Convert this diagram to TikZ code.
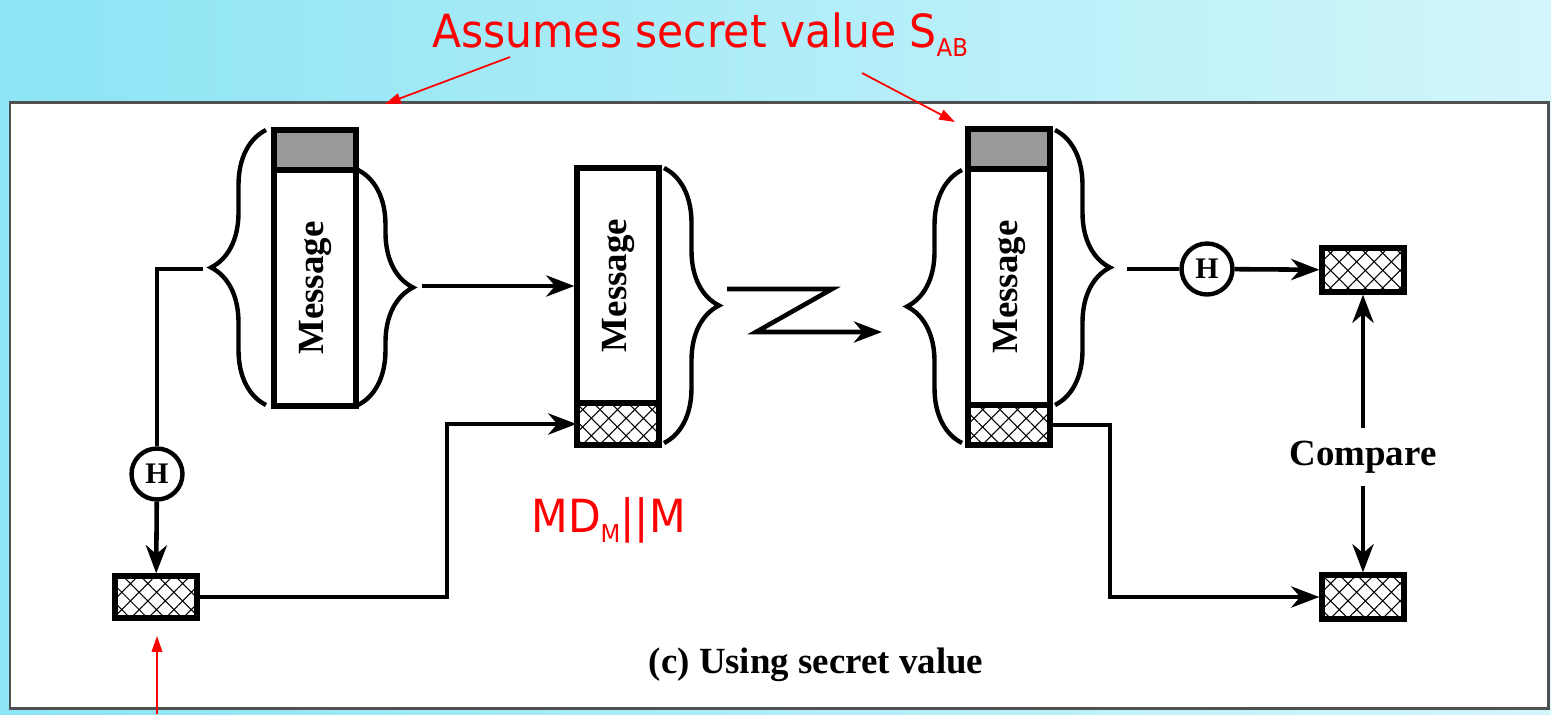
\documentclass[tikz,border=0pt]{standalone}
\usepackage{fontspec}
\setmainfont{Liberation Serif}
\newfontfamily\redfont[FakeStretch=0.93]{DejaVu Sans}
\usetikzlibrary{arrows.meta,decorations.pathreplacing,patterns.meta}

\definecolor{skyL}{RGB}{140,228,244}
\definecolor{skyR}{RGB}{210,246,251}
\definecolor{framegray}{RGB}{80,80,80}
\definecolor{keygray}{RGB}{154,152,154}

\tikzset{
  box/.style={draw,line width=3pt,minimum width=16.4mm,inner sep=0pt},
  keybox/.style={box,fill=keygray,minimum height=8mm},
  msgbox/.style={box,fill=white,minimum height=47.2mm,font=\fontsize{21}{21}\selectfont\bfseries},
  macbox/.style={box,pattern={Hatch[angle=45,distance=7pt,line width=0.6pt]},minimum height=8.4mm},
  hashnode/.style={draw,circle,line width=2.5pt,fill=white,minimum size=10.2mm,inner sep=0pt,font=\fontsize{17}{17}\selectfont\bfseries},
  lbl/.style={font=\fontsize{21}{21}\selectfont\bfseries},
  redlbl/.style={red,inner sep=0pt,font=\redfont\fontsize{26}{26}\selectfont},
  conn/.style={line width=2.6pt},
  arr/.style={conn,-{Stealth[length=16pt,width=12pt,inset=5pt]}},
  brc/.style={decorate,decoration={brace,amplitude=11mm},line width=2.5pt},
  redarr/.style={red,line width=1pt,-{Triangle[length=9pt,width=6pt]}}
}

\begin{document}
\begin{tikzpicture}[x=0.02cm,y=-0.02cm]
\useasboundingbox (0,0) rectangle (1551,714);
\shade[left color=skyL,right color=skyR] (0,0) rectangle (1551,714);
\draw[framegray,line width=0.6mm,fill=white] (10,102) rectangle (1548,708);

\node[keybox] (keyA) at (315,150) {};
\node[msgbox] (msgA) at (315,288) {\rotatebox{90}{Message}};
\node[msgbox,minimum height=47mm] (msgB) at (618,285.5) {\rotatebox{90}{Message}};
\node[macbox] (macB) at (618,424) {};
\node[keybox] (keyC) at (1009,149) {};
\node[msgbox] (msgC) at (1009,287) {\rotatebox{90}{Message}};
\node[macbox,minimum height=8mm] (macC) at (1009,425) {};

\node[hashnode] (hA) at (157,474) {H};
\node[macbox] (mdA) at (156,597) {};
\node[hashnode] (hC) at (1207,269) {H};
\node[macbox,minimum height=8.8mm] (mdC1) at (1363,270) {};
\node[macbox,minimum height=8.8mm] (mdC2) at (1363,597) {};
\node[lbl,inner ysep=7pt] (cmp) at (1363,457) {Compare};
\node[lbl,anchor=base] (cap) at (816,673) {(c) Using secret value};

\draw[brc] (266,405) -- (266,130);
\draw[brc] (358,170) -- (358,405);
\draw[brc] (664,168) -- (664,443);
\draw[brc] (962,443) -- (962,170);
\draw[brc] (1055,130) -- (1055,405);

\coordinate (tipA) at (203,269);
\coordinate (outA) at (422,286);
\coordinate (bendB) at (447,510);
\coordinate (zA) at (727,289);
\coordinate (zB) at (832,289);
\coordinate (zC) at (756,332);
\coordinate (zD) at (882,332);
\coordinate (tipC) at (1127,269);
\coordinate (bendC) at (1110,510);

\draw[conn] (tipA) -| (hA);
\draw[arr] (hA) -- (mdA);
\draw[arr] (outA) -- (outA -| msgB.west);
\draw[arr] (mdA.east) -| (bendB) |- (macB.west);
\draw[arr] (zA) -- (zB) -- (zC) -- (zD);
\draw[conn] (tipC) -- (hC);
\draw[arr] (hC) -- (mdC1);
\draw[arr] (macC.east) -| (bendC) |- (mdC2.west);
\draw[arr] (cmp) -- (mdC1);
\draw[arr] (cmp) -- (mdC2);

\node[redlbl,anchor=base west] (sab) at (432,47) {Assumes secret value S\raisebox{-5.5pt}{\fontsize{14}{14}\selectfont AB}};
\node[redlbl,anchor=base west] (mdm) at (531,532) {MD\raisebox{-6pt}{\fontsize{14}{14}\selectfont M}||M};
\coordinate (r1s) at (510,57);
\coordinate (r1e) at (385,104);
\coordinate (r2s) at (862,73);
\coordinate (r2e) at (955,122);
\coordinate (r3s) at (157,714);
\coordinate (r3e) at (157,636);
\draw[redarr] (r1s) -- (r1e);
\draw[redarr] (r2s) -- (r2e);
\draw[redarr] (r3s) -- (r3e);
\end{tikzpicture}
\end{document}
